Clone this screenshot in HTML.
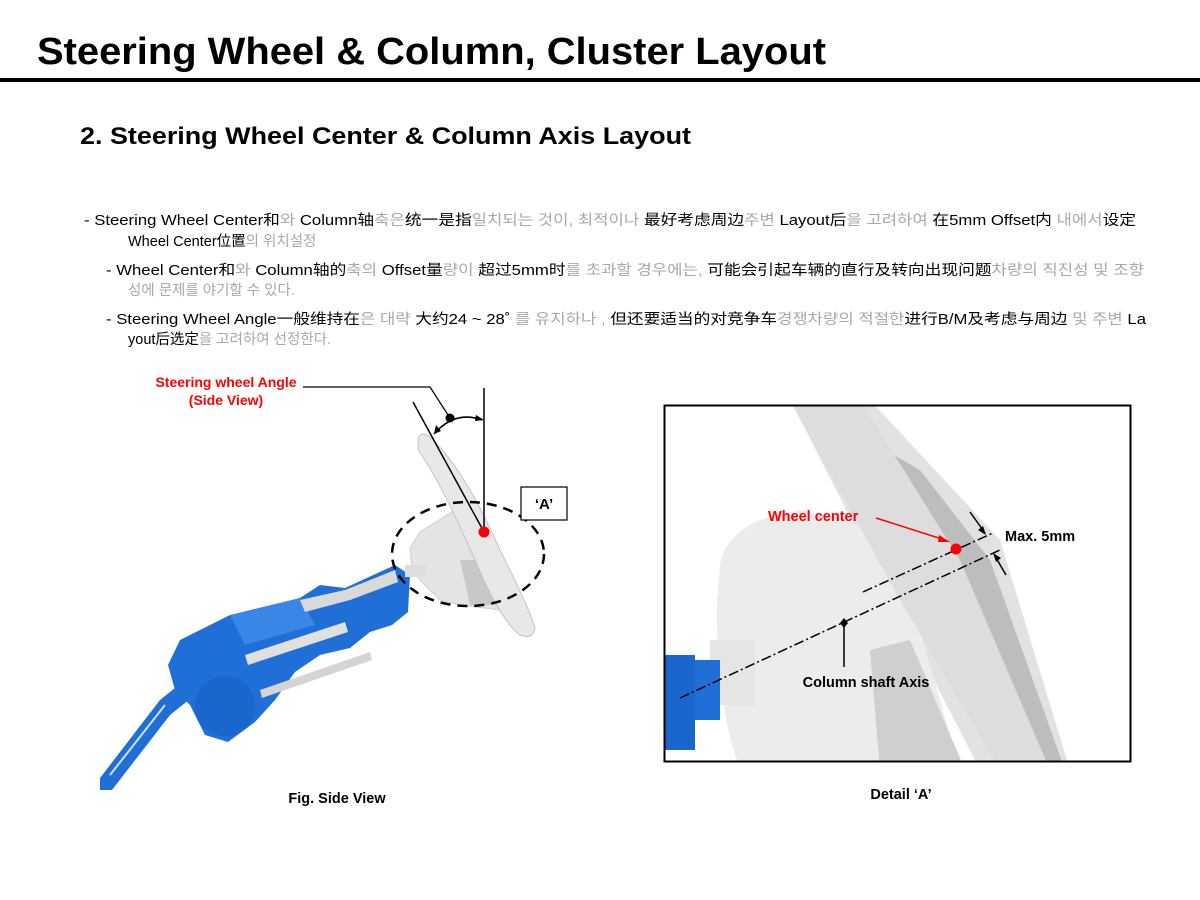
<!DOCTYPE html>
<html><head><meta charset="utf-8"><style>
body{margin:0;background:#fff;}
svg{display:block;}
text{font-family:"Liberation Sans","Noto Sans CJK KR",sans-serif;}
.g{fill:#a8a8a8;}
</style></head><body>
<svg width="1200" height="900" viewBox="0 0 1200 900" xmlns="http://www.w3.org/2000/svg">
<rect width="1200" height="900" fill="#fff"/>
<text x="37" y="64" font-size="38" font-weight="bold" font-family="Liberation Sans, sans-serif" textLength="789" lengthAdjust="spacingAndGlyphs">Steering Wheel &amp; Column, Cluster Layout</text>
<rect x="0" y="78" width="1200" height="4" fill="#000"/>
<text x="80" y="144" font-size="24" font-weight="bold" font-family="Liberation Sans, sans-serif" textLength="611" lengthAdjust="spacingAndGlyphs">2.  Steering Wheel Center &amp; Column Axis Layout</text>

<g font-size="14.5">
<text x="84" y="225" textLength="1052" lengthAdjust="spacingAndGlyphs">- Steering Wheel Center和<tspan class="g">와</tspan> Column轴<tspan class="g">축은</tspan>统一是指<tspan class="g">일치되는 것이,</tspan>   <tspan class="g">최적이나</tspan> 最好考虑周边<tspan class="g">주변</tspan> Layout后<tspan class="g">을 고려하여</tspan> 在5mm Offset内 <tspan class="g">내에서</tspan>设定</text>
<text x="128" y="246">Wheel Center位置<tspan class="g">의 위치설정</tspan></text>
<text x="106" y="275" textLength="1038" lengthAdjust="spacingAndGlyphs">- Wheel Center和<tspan class="g">와</tspan> Column轴的<tspan class="g">축의</tspan> Offset量<tspan class="g">량이</tspan> 超过5mm时<tspan class="g">를 초과할 경우에는,</tspan>   可能会引起车辆的直行及转向出现问题<tspan class="g">차량의 직진성 및 조향</tspan></text>
<text x="128" y="295" class="g">성에 문제를 야기할 수 있다.</text>
<text x="106" y="324" textLength="1040" lengthAdjust="spacingAndGlyphs">- Steering Wheel Angle一般维持在<tspan class="g">은 대략</tspan> 大约24 ~ 28˚ <tspan class="g">를 유지하나 ,</tspan>  但还要适当的对竞争车<tspan class="g">경쟁차량의 적절한</tspan>进行B/M及考虑与周边 <tspan class="g">및 주변</tspan> La</text>
<text x="128" y="344">yout后选定<tspan class="g">을 고려하여 선정한다.</tspan></text>
</g>

<!-- Left figure -->
<g>
  <!-- lower shaft -->
  <path d="M100 778 L160 700 L185 680 L195 695 L170 715 L112 790 L100 790 Z" fill="#1f6fd6"/>
  <path d="M110 775 L165 705" stroke="#cfe0f5" stroke-width="2"/>
  <!-- main body -->
  <path d="M168 665 L180 640 L230 615 L250 612 L300 598 L320 585 L345 588 L395 565 L410 575 L408 612 L392 625 L370 632 L350 648 L320 655 L295 672 L275 700 L255 722 L228 742 L205 735 L190 705 L175 690 Z" fill="#1f6fd6"/>
  <path d="M230 615 L300 598 L315 625 L245 645 Z" fill="#3a86e6"/>
  <circle cx="225" cy="706" r="30" fill="#1a66cc"/>
  <path d="M245 655 L345 622 L348 632 L248 665 Z" fill="#e0e0e0"/>
  <path d="M260 690 L370 652 L372 660 L262 698 Z" fill="#d4d4d4"/>
  <path d="M300 600 L345 590 L395 570 L398 582 L350 600 L305 612 Z" fill="#d9d9d9"/>
  <!-- hub -->
  <path d="M410 548 L420 532 L455 510 L478 520 L500 560 L515 600 L500 610 L460 605 L440 600 L420 580 L412 570 Z" fill="#e4e4e4" stroke="#cfcfcf"/>
  <path d="M460 560 L500 560 L515 605 L470 605 Z" fill="#c8c8c8"/>
  <rect x="405" y="565" width="20" height="12" fill="#ddd"/>
  <!-- wheel rim -->
  <path d="M418 440 Q420 430 430 437 Q465 470 500 550 Q530 610 535 628 Q533 640 520 635 Q500 620 475 560 Q440 480 418 450 Z" fill="#e8e8e8" stroke="#c4c4c4"/>
  <!-- lines -->
  <line x1="413" y1="402" x2="484" y2="532" stroke="#000" stroke-width="1.5"/>
  <line x1="484" y1="388" x2="484" y2="532" stroke="#000" stroke-width="1.5"/>
  <path d="M303 387 L430 387 L450 418" stroke="#000" stroke-width="1.2" fill="none"/>
  <path d="M434 434 Q455 410 482 420" stroke="#000" stroke-width="1.5" fill="none"/>
  <path d="M434 434 l2 -9 l5 6 Z" fill="#000"/>
  <path d="M484 420 l-8 -5 l-1 6 Z" fill="#000"/>
  <circle cx="450" cy="418" r="4.5" fill="#000"/>
  <circle cx="484" cy="532" r="5.5" fill="#f00"/>
  <ellipse cx="468" cy="554" rx="76" ry="52" fill="none" stroke="#000" stroke-width="2.5" stroke-dasharray="10 7"/>
  <rect x="521" y="487" width="46" height="33" fill="#fff" stroke="#000" stroke-width="1.2"/>
  <text x="544" y="509" font-size="15" font-weight="bold" text-anchor="middle">‘A’</text>
  <text x="226" y="387" font-size="14" font-weight="bold" fill="#f00" text-anchor="middle">Steering wheel Angle</text>
  <text x="226" y="405" font-size="14" font-weight="bold" fill="#f00" text-anchor="middle">(Side View)</text>
  <text x="337" y="803" font-size="14.5" font-weight="bold" text-anchor="middle">Fig. Side View</text>
</g>

<!-- Detail A -->
<g>
  <clipPath id="c"><rect x="665" y="406" width="465" height="355"/></clipPath>
  <g clip-path="url(#c)">
    <rect x="665" y="406" width="465" height="355" fill="#fff"/>
    <path d="M790 400 L870 400 L1000 540 L1070 770 L980 770 Z" fill="#e2e2e2"/>
    <path d="M885 450 L920 470 L990 560 L1065 770 L1030 770 L960 600 Z" fill="#bdbdbd"/>
    <path d="M720 565 Q725 535 760 520 L800 510 L850 520 L900 560 L960 770 L740 770 Q715 700 717 600 Z" fill="#ececec"/>
    <path d="M870 650 L910 640 L965 770 L880 770 Z" fill="#cfcfcf"/>
    <path d="M790 400 L860 400 L960 560 L1050 770 L1000 770 L900 600 Z" fill="#dddddd"/>
    <rect x="710" y="640" width="45" height="65" fill="#e5e5e5"/>
    <rect x="690" y="660" width="30" height="60" fill="#1f6fd6"/>
    <rect x="665" y="655" width="30" height="95" fill="#1a66cc"/>
  </g>
  <rect x="664.5" y="405.5" width="466" height="356" fill="none" stroke="#000" stroke-width="2"/>
  <line x1="680" y1="698" x2="1000" y2="550" stroke="#000" stroke-width="1.5" stroke-dasharray="10 3 2 3"/>
  <line x1="863" y1="592" x2="993" y2="533" stroke="#000" stroke-width="1.5" stroke-dasharray="10 3 2 3"/>
  <path d="M876 518 L945 540" stroke="#f00" stroke-width="1.5"/>
  <path d="M950 542 l-11 -7 l-1 7 Z" fill="#f00"/>
  <circle cx="956" cy="549" r="5.5" fill="#f00"/>
  <path d="M970 512 L985 533" stroke="#000" stroke-width="1.5"/>
  <path d="M986 535 l-8 -5 l5 -4 Z" fill="#000"/>
  <path d="M1006 575 L995 556" stroke="#000" stroke-width="1.5"/>
  <path d="M993 553 l8 5 l-5 4 Z" fill="#000"/>
  <path d="M844 618 l4 5 l-4 5 l-4 -5 Z" fill="#000"/>
  <line x1="844" y1="623" x2="844" y2="667" stroke="#000" stroke-width="1.5"/>
  <text x="768" y="521" font-size="14.5" font-weight="bold" fill="#f00">Wheel center</text>
  <text x="1005" y="541" font-size="14.5" font-weight="bold">Max. 5mm</text>
  <text x="866" y="687" font-size="14.5" font-weight="bold" text-anchor="middle">Column shaft Axis</text>
  <text x="901" y="799" font-size="14.5" font-weight="bold" text-anchor="middle">Detail ‘A’</text>
</g>
</svg>
</body></html>
